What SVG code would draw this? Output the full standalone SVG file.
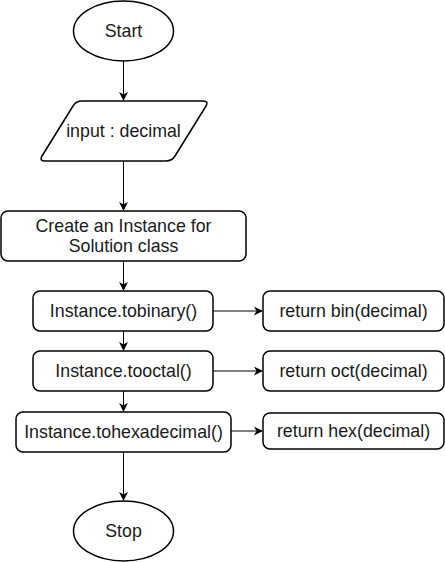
<svg xmlns="http://www.w3.org/2000/svg" width="445" height="562" viewBox="0 0 445 562">
<defs>
<style>
.n{fill:#fff;stroke:#000;stroke-width:1.5}
.t{font-family:"Liberation Sans",Arial,sans-serif;font-size:17.8px;fill:#1a1a1a;text-anchor:middle;dominant-baseline:central}
.c{stroke:#000;stroke-width:1;fill:none;marker-end:url(#a)}
</style>
<marker id="a" viewBox="0 0 10 10" refX="9" refY="5" markerWidth="9" markerHeight="9" markerUnits="userSpaceOnUse" orient="auto">
<path d="M0,0 L10,5 L0,10 L3,5 Z" fill="#000"/>
</marker>
</defs>
<g id="connectors">
<path class="c" d="M123.5,61 V100"/>
<path class="c" d="M123.5,161 V210"/>
<path class="c" d="M123.5,262 V290"/>
<path class="c" d="M123.5,331 V350"/>
<path class="c" d="M123.5,391 V411"/>
<path class="c" d="M123.5,452 V500"/>
<path class="c" d="M213,311 H262"/>
<path class="c" d="M213,371 H262"/>
<path class="c" d="M231,431 H262"/>
</g>
<g id="start">
<ellipse class="n" cx="123.5" cy="31" rx="50" ry="30"/>
<text class="t" x="123.5" y="31">Start</text>
</g>
<g id="input">
<path class="n" d="M82,101 H203 Q209,101 206,106 L175,156 Q172,161 166,161 H45 Q39,161 42,156 L73,106 Q76,101 82,101 Z"/>
<text class="t" x="123.5" y="131">input : decimal</text>
</g>
<g id="create">
<rect class="n" x="1" y="211" width="245" height="50" rx="7"/>
<text class="t" x="123.5" y="226">Create an Instance for</text>
<text class="t" x="123.5" y="246">Solution class</text>
</g>
<g id="tobinary">
<rect class="n" x="33" y="291" width="180" height="40" rx="7"/>
<text class="t" x="123.5" y="311">Instance.tobinary()</text>
</g>
<g id="tooctal">
<rect class="n" x="33" y="351" width="180" height="40" rx="7"/>
<text class="t" x="123.5" y="371">Instance.tooctal()</text>
</g>
<g id="tohex">
<rect class="n" x="16" y="412" width="215" height="40" rx="7"/>
<text class="t" x="123.5" y="432">Instance.tohexadecimal()</text>
</g>
<g id="retbin">
<rect class="n" x="263" y="291" width="181" height="40" rx="7"/>
<text class="t" x="353.5" y="311">return bin(decimal)</text>
</g>
<g id="retoct">
<rect class="n" x="263" y="351" width="181" height="40" rx="7"/>
<text class="t" x="353.5" y="371">return oct(decimal)</text>
</g>
<g id="rethex">
<rect class="n" x="263" y="413" width="181" height="36" rx="7"/>
<text class="t" x="353.5" y="431">return hex(decimal)</text>
</g>
<g id="stop">
<ellipse class="n" cx="123.5" cy="531" rx="50" ry="30"/>
<text class="t" x="123.5" y="531">Stop</text>
</g>
</svg>
